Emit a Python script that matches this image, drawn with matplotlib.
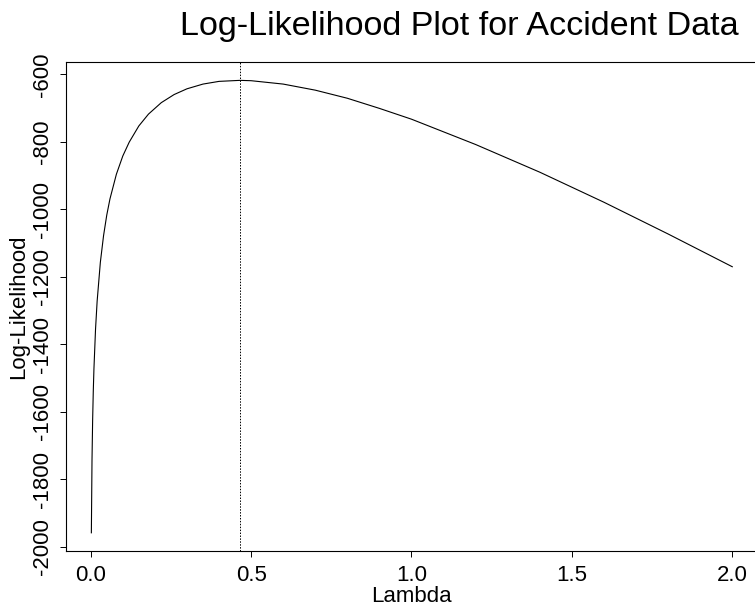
import matplotlib
matplotlib.use("Agg")
import matplotlib.pyplot as plt

plt.rcParams['font.family'] = ['Liberation Sans', 'DejaVu Sans']

# values
lam = [0.002, 0.004, 0.006, 0.008, 0.01, 0.015, 0.02, 0.03, 0.04, 0.05,
       0.06, 0.08, 0.10, 0.12, 0.15, 0.18, 0.22, 0.26, 0.30, 0.35,
       0.40, 0.465, 0.50, 0.60, 0.70, 0.80, 0.90, 1.0, 1.2, 1.4,
       1.6, 1.8, 2.0]
loglik = [-1958, -1743, -1623, -1538, -1473, -1355, -1272, -1157, -1078, -1017,
          -969, -896, -842, -801, -753, -718, -684, -660, -643, -629,
          -621, -618, -619, -629, -647, -671, -701, -733, -808, -890,
          -979, -1073, -1170]
lam_hat = 0.4645

xticks = [0.0, 0.5, 1.0, 1.5, 2.0]
yticks = [-2000, -1800, -1600, -1400, -1200, -1000, -800, -600]

fig = plt.figure(figsize=(7.55, 6.10), dpi=100)
ax = fig.add_axes([65.7/755, 1 - 550.7/610, (757.3 - 65.7)/755, (550.7 - 62.3)/610])

ax.plot(lam, loglik, color='black', lw=0.8)
ax.axvline(lam_hat, color='black', lw=0.7, linestyle=(0, (1.5, 1.5)))

ax.set_xlim(-0.078, 2.078)
ax.set_ylim(-2011, -564.5)
ax.set_xticks(xticks)
ax.set_xticklabels(['%.1f' % t for t in xticks])
ax.set_yticks(yticks)
ax.set_yticklabels([str(t) for t in yticks], rotation=90, va='center')

for s in ['left', 'bottom', 'top']:
    ax.spines[s].set_linewidth(0.8)
ax.spines['right'].set_visible(False)

ax.tick_params(axis='both', direction='out', length=4.2, width=0.7,
               labelsize=16, pad=6)
ax.tick_params(axis='y', pad=5)

ax.set_xlabel('Lambda', fontsize=16, labelpad=0)
ax.set_ylabel('Log-Likelihood', fontsize=16, labelpad=2)

fig.text(459/755, 1 - 26/610, 'Log-Likelihood Plot for Accident Data',
         fontsize=24.6, ha='center', va='center')

fig.savefig('out.png', dpi=100)
